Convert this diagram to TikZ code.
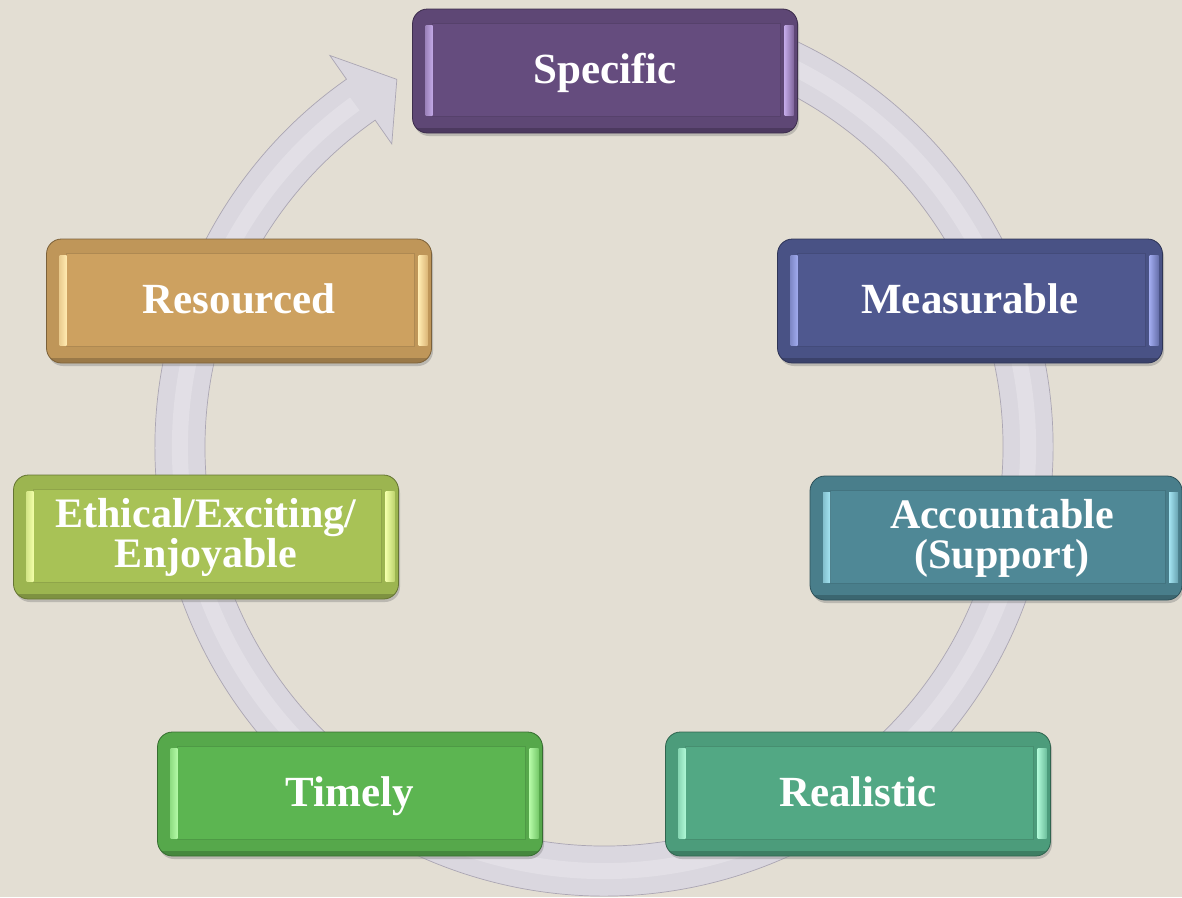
\documentclass[tikz,border=0pt]{standalone}
\usepackage{fontspec}
\setmainfont{Liberation Serif}
\usetikzlibrary{shadows}
\definecolor{bg}{HTML}{E3DED3}
\definecolor{ringc}{HTML}{DAD7DF}
\definecolor{ringd}{HTML}{ABA6B3}
\definecolor{cspec}{HTML}{654C7E}\definecolor{cspecH}{HTML}{C2A8E6}
\definecolor{cmeas}{HTML}{4F588F}\definecolor{cmeasH}{HTML}{A0AAEE}
\definecolor{cacc}{HTML}{4F8896}\definecolor{caccH}{HTML}{A4E4F2}
\definecolor{creal}{HTML}{52A884}\definecolor{crealH}{HTML}{AEF8D6}
\definecolor{ctime}{HTML}{5CB551}\definecolor{ctimeH}{HTML}{B4FAA6}
\definecolor{ceth}{HTML}{A8C256}\definecolor{cethH}{HTML}{F2FFA8}
\definecolor{cres}{HTML}{CDA160}\definecolor{cresH}{HTML}{FFEAB0}
\newcommand\sbfont{\bfseries\fontsize{43}{38}\selectfont}
\newcommand\sbtwofont{\bfseries\fontsize{42}{40}\selectfont}
\tikzset{
  ring/.style={fill=ringc, draw=ringd, line width=0.7pt},
  oneline/.style={text height=31pt, text depth=7pt},
  twoline/.style={font=\sbtwofont},
  sbox/.style={rounded corners=15pt, minimum width=385pt, minimum height=124pt,
    inner sep=0pt, fill=#1, draw=#1!60!black, line width=0.8pt,
    text=white, align=center, font=\sbfont,
    drop shadow={shadow xshift=1.5pt, shadow yshift=-3pt, opacity=0.4},
    path picture={
      \fill[#1!93!black, sharp corners] (path picture bounding box.south west) rectangle (path picture bounding box.north east);
      \filldraw[fill=#1, draw=#1!85!black, line width=0.6pt, sharp corners] ([shift={(20pt,-14pt)}]path picture bounding box.north west) rectangle ([shift={(-17pt,17pt)}]path picture bounding box.south east);
      \shade[left color=#1!40!#1H, right color=#1H, sharp corners] ([shift={(13pt,-16pt)}]path picture bounding box.north west) rectangle ([shift={(20pt,18pt)}]path picture bounding box.south west);
      \shade[left color=#1H, right color=#1!70!#1H, sharp corners] ([shift={(-13pt,-16pt)}]path picture bounding box.north east) rectangle ([shift={(-4pt,18pt)}]path picture bounding box.south east);
      \fill[#1!75!black, sharp corners] (path picture bounding box.south west) rectangle ([shift={(0pt,5pt)}]path picture bounding box.south east);
    }}
}
\begin{document}
\begin{tikzpicture}[x=1pt,y=-1pt]
\fill[bg] (0,0) rectangle (1182,897);
\useasboundingbox (0,0) rectangle (1182,897);
% circular arrow
\begin{scope}[shift={(604pt,-447pt)}, x=1pt, y=1pt]
  \coordinate (tip) at (119.4:422);
  \filldraw[ring] (75:449) arc[start angle=75, end angle=-235, radius=449]
     -- (125:478) -- (tip) -- (125:370) -- (125:399)
     arc[start angle=-235, end angle=75, radius=399] -- cycle;
  \draw[white, opacity=0.22, line width=16pt] (75:424) arc[start angle=75, end angle=-234, radius=424];
\end{scope}
% boxes
\node[sbox=cspec, oneline] (spec) at (605,71) {Specific};
\node[sbox=cmeas, oneline] (meas) at (970,301) {Measurable};
\node[sbox=cacc, twoline, minimum width=372pt] (acc) at (996,538) {\hspace*{12pt}Accountable\\\hspace*{12pt}(Support)};
\node[sbox=creal, oneline] (real) at (858,794) {Realistic};
\node[sbox=ctime, oneline] (time) at (350,794) {Timely};
\node[sbox=ceth, twoline] (eth) at (206,537) {Ethical/Exciting/\\Enjoyable};
\node[sbox=cres, oneline] (res) at (239,301) {Resourced};
\end{tikzpicture}
\end{document}
